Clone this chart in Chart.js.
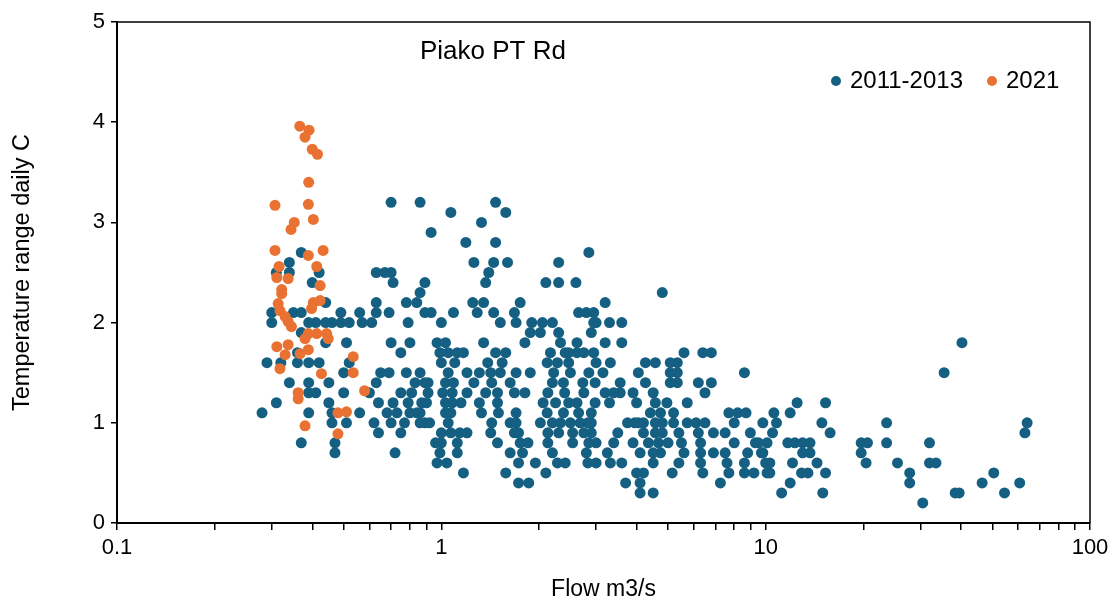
<!DOCTYPE html>
<html>
<head>
<meta charset="utf-8">
<title>Piako PT Rd</title>
<script src="https://cdn.jsdelivr.net/npm/chart.js@4.4.1/dist/chart.umd.min.js"></script>
<style>
  html, body { margin: 0; padding: 0; background: #fff; }
  #wrap { width: 1114px; height: 603px; position: relative; }
</style>
</head>
<body>
<div id="wrap"><canvas id="flowChart"></canvas></div>
<script>
// Daily temperature range (C) against flow (m3/s)
const siteName = 'Piako PT Rd';
const seriesNames = ['2011-2013', '2021'];
const seriesColors = ['#156082', '#E97132'];

// 2011-2013 logger: ranges were logged to 0.1 C, so flows are grouped by range
const histRanges = [3.2, 3.1, 3.0, 2.9, 2.8, 2.7, 2.6, 2.5, 2.4, 2.3, 2.2, 2.1, 2.0, 1.9, 1.8, 1.7, 1.6, 1.5, 1.4, 1.3, 1.2, 1.1, 1.0, 0.9, 0.8, 0.7, 0.6, 0.5, 0.4, 0.3, 0.2];
const histFlows = [
  [0.70, 0.86, 1.47],
  [1.07, 1.58],
  [1.33],
  [0.93],
  [1.19, 1.47],
  [0.37, 2.85],
  [0.34, 1.26, 1.45, 1.60, 2.30],
  [0.31, 0.34, 0.42, 0.63, 0.67, 0.70, 1.40],
  [0.40, 0.71, 0.89, 1.37, 2.10, 2.30, 2.60],
  [0.86, 4.8],
  [0.44, 0.63, 0.78, 0.84, 1.25, 1.35, 1.75, 3.2],
  [0.30, 0.35, 0.37, 0.49, 0.56, 0.63, 0.69, 0.89, 0.93, 1.09, 1.29, 1.45, 1.68, 2.65, 2.80, 2.95],
  [0.30, 0.39, 0.41, 0.44, 0.46, 0.49, 0.52, 0.57, 0.61, 0.79, 1.0, 1.52, 1.70, 1.90, 2.05, 2.20, 2.95, 3.0, 3.3, 3.6],
  [0.37, 1.88, 2.02, 2.30, 2.90],
  [0.44, 0.51, 0.70, 0.80, 0.97, 1.03, 1.35, 1.81, 2.33, 2.62, 3.2, 3.6, 40.3],
  [0.36, 0.75, 0.99, 1.05, 1.12, 1.17, 1.47, 1.58, 2.17, 2.41, 2.47, 2.62, 2.75, 2.95, 5.6, 6.4, 6.8],
  [0.29, 0.32, 0.36, 0.39, 0.42, 0.52, 1.0, 1.10, 1.39, 1.54, 2.12, 2.28, 2.47, 3.0, 3.32, 4.26, 4.57, 5.08, 5.34],
  [0.50, 0.65, 0.69, 0.78, 0.86, 1.05, 1.20, 1.31, 1.42, 1.52, 1.70, 1.88, 2.22, 2.5, 2.85, 3.15, 4.05, 5.08, 5.34, 8.6, 35.5],
  [0.34, 0.39, 0.45, 0.63, 0.83, 0.89, 0.91, 1.03, 1.09, 1.26, 1.43, 1.63, 2.2, 2.38, 2.73, 2.98, 3.56, 4.26, 5.08, 5.34, 6.2, 6.8],
  [0.39, 0.41, 0.50, 0.60, 0.75, 0.81, 0.91, 1.01, 1.08, 1.20, 1.37, 1.49, 1.68, 1.81, 2.13, 2.4, 2.75, 3.2, 3.4, 3.56, 3.9, 4.5, 6.5],
  [0.31, 0.45, 0.64, 0.71, 0.79, 0.87, 0.90, 1.03, 1.08, 1.15, 1.31, 1.49, 2.06, 2.25, 2.47, 2.62, 2.98, 3.3, 4.0, 4.57, 4.96, 5.73, 12.5, 15.3],
  [0.28, 0.39, 0.46, 0.56, 0.68, 0.73, 0.80, 0.84, 0.86, 1.03, 1.07, 1.33, 1.5, 1.70, 2.12, 2.38, 2.65, 2.9, 4.41, 4.74, 5.2, 7.7, 8.2, 8.7, 10.6, 11.9],
  [0.46, 0.51, 0.62, 0.70, 0.77, 0.86, 0.89, 0.92, 1.05, 1.43, 1.63, 1.70, 2.02, 2.20, 2.33, 2.50, 2.68, 2.83, 2.9, 3.75, 3.95, 4.05, 4.2, 4.57, 4.8, 5.2, 5.73, 6.1, 6.5, 8.0, 9.8, 10.8, 14.9, 23.6, 64],
  [0.64, 0.75, 1.0, 1.07, 1.14, 1.20, 1.42, 1.68, 1.73, 2.13, 2.3, 2.54, 2.75, 2.9, 3.5, 4.2, 4.57, 4.8, 5.4, 6.2, 6.9, 7.5, 8.97, 10.5, 15.8, 63],
  [0.37, 0.47, 0.96, 1.0, 1.12, 1.49, 1.75, 1.85, 2.13, 2.54, 2.85, 3.0, 3.4, 3.9, 4.35, 4.67, 5.0, 5.5, 6.3, 8.0, 9.3, 9.5, 10.1, 11.7, 12.3, 13.0, 13.7, 19.7, 20.6, 23.6, 32],
  [0.47, 0.72, 0.99, 1.12, 1.63, 1.78, 2.2, 2.80, 3.25, 4.1, 4.5, 4.74, 5.6, 6.3, 6.9, 7.5, 8.8, 9.7, 9.8, 13.0, 13.7, 19.7],
  [0.97, 1.04, 1.73, 1.95, 2.28, 2.41, 2.83, 3.0, 3.32, 3.6, 4.5, 5.4, 6.3, 7.6, 8.6, 10.0, 10.3, 12.1, 14.4, 20.4, 25.5, 32, 33.5],
  [1.17, 1.58, 2.10, 4.0, 4.2, 5.15, 6.4, 7.7, 8.6, 9.2, 10.1, 10.3, 12.9, 13.5, 15.3, 27.8, 50.5],
  [1.73, 1.86, 3.7, 4.1, 7.25, 11.9, 27.8, 46.5, 60.7],
  [4.1, 4.5, 11.2, 15.0, 38.4, 39.5, 54.5],
  [30.5]
];

// 2021 logger: [flow, range]
const recentPoints = [
  [0.366, 3.96], [0.391, 3.92], [0.38, 3.85], [0.40, 3.73], [0.415, 3.68], [0.39, 3.40],
  [0.307, 3.17], [0.389, 3.18], [0.403, 3.03], [0.352, 3.0], [0.344, 2.93], [0.307, 2.72],
  [0.432, 2.72], [0.389, 2.67], [0.413, 2.56], [0.316, 2.56], [0.311, 2.45], [0.337, 2.44],
  [0.423, 2.37], [0.322, 2.33], [0.322, 2.29], [0.423, 2.22], [0.403, 2.2], [0.314, 2.19],
  [0.398, 2.14], [0.318, 2.12], [0.33, 2.06], [0.337, 2.01], [0.345, 1.96], [0.389, 1.89],
  [0.413, 1.89], [0.443, 1.89], [0.38, 1.84], [0.448, 1.84], [0.311, 1.76], [0.337, 1.78],
  [0.389, 1.73], [0.33, 1.68], [0.367, 1.69], [0.535, 1.66], [0.318, 1.54], [0.535, 1.50],
  [0.427, 1.49], [0.362, 1.30], [0.362, 1.24], [0.58, 1.32], [0.48, 1.10], [0.51, 1.11],
  [0.38, 0.97], [0.48, 0.89]
];

// axis ticks
const flowLabels = [0.1, 1, 10, 100];
const rangeTicks = [0, 1, 2, 3, 4, 5];

const histPoints = histRanges.flatMap((r, i) => histFlows[i].map(f => ({ x: f, y: r })));
const recentData = recentPoints.map(p => ({ x: p[0], y: p[1] }));

// minor tick marks at 1..9 of each decade
const flowTickMarks = [];
for (let d = 0; d < flowLabels.length - 1; d++) {
  for (let k = 1; k < 10; k++) flowTickMarks.push(+(flowLabels[d] * k).toPrecision(3));
}
flowTickMarks.push(flowLabels[flowLabels.length - 1]);

const FONT = "'Liberation Sans', Arial, sans-serif";

// box round the plot, site name and legend drawn inside the plot area
const decorPlugin = {
  id: 'decor',
  afterDraw(chart) {
    const { ctx, chartArea: a } = chart;
    ctx.save();
    ctx.strokeStyle = '#000';
    ctx.lineWidth = 1.5;
    ctx.beginPath();
    ctx.moveTo(a.left, a.top);
    ctx.lineTo(a.right, a.top);
    ctx.lineTo(a.right, a.bottom);
    ctx.stroke();

    ctx.fillStyle = '#000';
    ctx.textBaseline = 'middle';
    ctx.font = '26px ' + FONT;
    ctx.fillText(siteName, a.left + 303, a.top + 30);

    ctx.font = '24px ' + FONT;
    let x = a.left + 719;
    const y = a.top + 59;
    chart.data.datasets.forEach(ds => {
      ctx.fillStyle = ds.backgroundColor;
      ctx.beginPath();
      ctx.arc(x, y, 5, 0, Math.PI * 2);
      ctx.fill();
      ctx.fillStyle = '#000';
      ctx.fillText(ds.label, x + 14, y);
      x += 14 + ctx.measureText(ds.label).width + 29;
    });
    ctx.restore();
  }
};

new Chart(document.getElementById('flowChart'), {
  type: 'scatter',
  data: {
    datasets: [
      { label: seriesNames[0], data: histPoints, backgroundColor: seriesColors[0], pointRadius: 5.5, pointHoverRadius: 5.5, pointBorderWidth: 0, order: 2 },
      { label: seriesNames[1], data: recentData, backgroundColor: seriesColors[1], pointRadius: 5.5, pointHoverRadius: 5.5, pointBorderWidth: 0, order: 1 }
    ]
  },
  options: {
    responsive: true,
    maintainAspectRatio: false,
    animation: false,
    layout: { padding: { top: 22, right: 24, left: 0, bottom: 0 } },
    plugins: { legend: { display: false }, tooltip: { enabled: false } },
    scales: {
      x: {
        type: 'logarithmic',
        min: flowLabels[0],
        max: flowLabels[flowLabels.length - 1],
        afterBuildTicks: s => { s.ticks = flowTickMarks.map(v => ({ value: v })); },
        afterFit: s => { s.height = 80; },
        border: { color: '#000', width: 2 },
        grid: { drawOnChartArea: false, color: '#000', tickLength: 7, lineWidth: 1.5 },
        ticks: {
          autoSkip: false,
          maxRotation: 0,
          color: '#000',
          padding: 5,
          font: { family: FONT, size: 22 },
          callback: v => flowLabels.includes(v) ? String(v) : ''
        },
        title: { display: true, text: 'Flow m3/s', color: '#000', font: { family: FONT, size: 23 }, padding: { top: 0, bottom: 0 } }
      },
      y: {
        min: rangeTicks[0],
        max: rangeTicks[rangeTicks.length - 1],
        afterBuildTicks: s => { s.ticks = rangeTicks.map(v => ({ value: v })); },
        afterFit: s => { s.width = 117; },
        border: { color: '#000', width: 2 },
        grid: { drawOnChartArea: false, color: '#000', tickLength: 6, lineWidth: 1.5 },
        ticks: { color: '#000', padding: 6, font: { family: FONT, size: 22 } },
        title: { display: true, text: 'Temperature range daily C', color: '#000', font: { family: FONT, size: 23.5 }, padding: { top: 8, bottom: 0 } }
      }
    }
  },
  plugins: [decorPlugin]
});
</script>
</body>
</html>
